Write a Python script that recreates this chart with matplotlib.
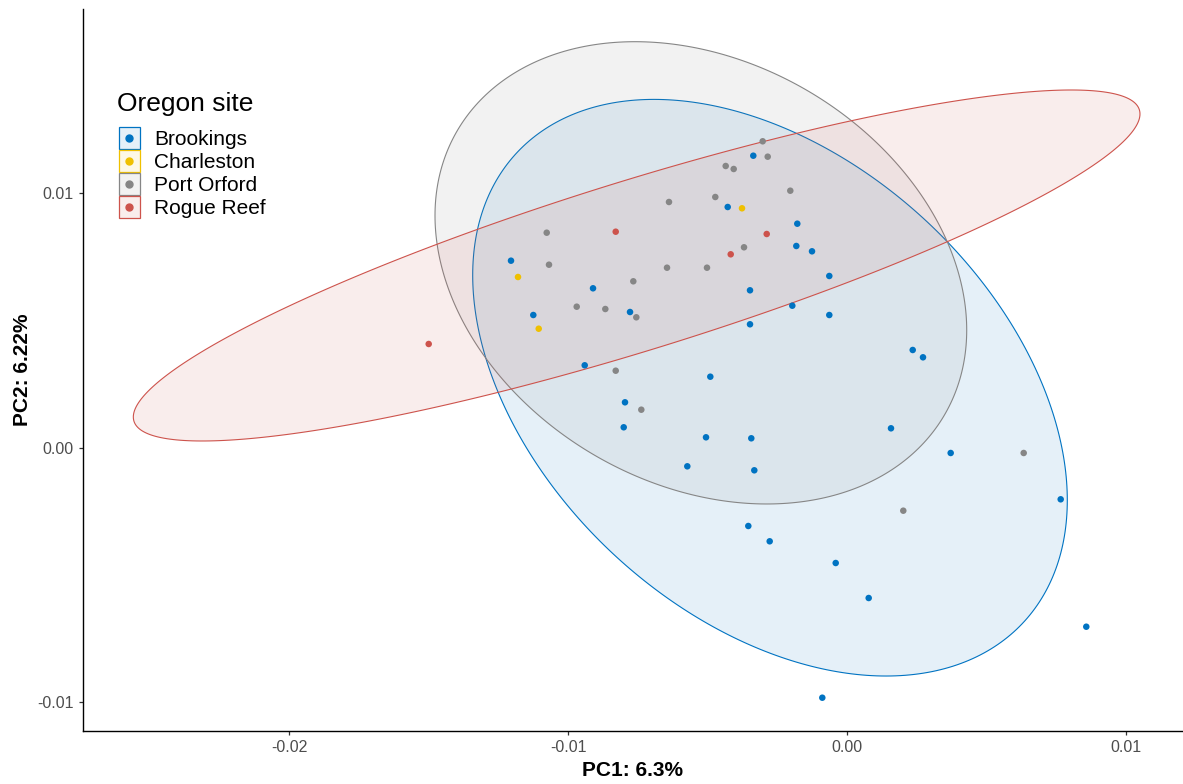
import numpy as np
import matplotlib
matplotlib.use("Agg")
import matplotlib.pyplot as plt
from matplotlib.patches import Polygon, Rectangle
from matplotlib.lines import Line2D

plt.rcParams['font.family'] = ['Liberation Sans', 'DejaVu Sans']

W, H = 1183, 784

sites = ["Brookings", "Charleston", "Port Orford", "Rogue Reef"]
site_colors = ["#0073C2", "#EFC000", "#868686", "#CD534C"]

brookings_pc1 = [-0.003361, -0.004279, -0.001783, -0.001818, -0.001255, -0.000635,
                 -0.012052, -0.009110, -0.011252, -0.007783, -0.003479, -0.001962,
                 -0.003479, -0.000635, -0.009408, -0.004903, -0.007963, -0.008009,
                 -0.005057, -0.003433, -0.005728, -0.003325, 0.002357, 0.002726,
                 0.001578, 0.003719, 0.007665, -0.003540, -0.002773, -0.000405,
                 0.000778, 0.008583, -0.000886]
brookings_pc2 = [0.011483, 0.009465, 0.008808, 0.007931, 0.007722, 0.006751,
                 0.007353, 0.006267, 0.005216, 0.005334, 0.006188, 0.005582,
                 0.004851, 0.005216, 0.003238, 0.002789, 0.001782, 0.000799,
                 0.000405, 0.000366, -0.000736, -0.000893, 0.003840, 0.003552,
                 0.000759, -0.000212, -0.002034, -0.003084, -0.003686, -0.004540,
                 -0.005917, -0.007046, -0.009839]

charleston_pc1 = [-0.003766, -0.011801, -0.011058]
charleston_pc2 = [0.009414, 0.006711, 0.004677]

portorford_pc1 = [-0.003024, -0.002844, -0.004351, -0.004064, -0.002034, -0.006385,
                  -0.004724, -0.010771, -0.010689, -0.003694, -0.006456, -0.005022,
                  -0.007665, -0.009695, -0.008669, -0.007557, -0.008296, -0.007378,
                  0.006338, 0.002019]
portorford_pc2 = [0.012050, 0.011444, 0.011078, 0.010960, 0.010106, 0.009662,
                  0.009858, 0.008454, 0.007195, 0.007880, 0.007077, 0.007077,
                  0.006542, 0.005543, 0.005452, 0.005126, 0.003025, 0.001491,
                  -0.000212, -0.002482]

roguereef_pc1 = [-0.008296, -0.002880, -0.004171, -0.015004]
roguereef_pc2 = [0.008493, 0.008403, 0.007604, 0.004076]

# 95% ellipses: centre, half-extent in x, half-extent in y,
# and x offset of the ellipse's highest point from the centre
ell_sites = ["Brookings", "Port Orford", "Rogue Reef"]
ell_cx = [-0.002762, -0.005242, -0.007545]
ell_cy = [0.002356, 0.006875, 0.007164]
ell_hw = [0.010664, 0.009536, 0.018054]
ell_hh = [0.011342, 0.009093, 0.006904]
ell_dxtop = [-0.004161, -0.002362, 0.015585]

x_ticks = [-0.02, -0.01, 0.00, 0.01]
x_ticklabels = ["-0.02", "-0.01", "0.00", "0.01"]
y_ticks = [-0.01, 0.00, 0.01]
y_ticklabels = ["-0.01", "0.00", "0.01"]

fig = plt.figure(figsize=(W / 100, H / 100), dpi=100)
ax_left, ax_right, ax_top, ax_bottom = 83, 1183, 8.9, 730.5
ax = fig.add_axes([ax_left / W, 1 - ax_bottom / H, (ax_right - ax_left) / W, (ax_bottom - ax_top) / H])

color_of = dict(zip(sites, site_colors))
t = np.linspace(0, 2 * np.pi, 361)
for s, cx, cy, hw, hh, dx in zip(ell_sites, ell_cx, ell_cy, ell_hw, ell_hh, ell_dxtop):
    S = np.array([[hw ** 2, dx * hh], [dx * hh, hh ** 2]])
    L = np.linalg.cholesky(S)
    pts = (L @ np.vstack([np.cos(t), np.sin(t)])).T + np.array([cx, cy])
    c = color_of[s]
    ax.add_patch(Polygon(pts, closed=True, facecolor=matplotlib.colors.to_rgba(c, 0.1),
                         edgecolor=c, linewidth=0.8, zorder=2))

series = [(brookings_pc1, brookings_pc2), (charleston_pc1, charleston_pc2),
          (portorford_pc1, portorford_pc2), (roguereef_pc1, roguereef_pc2)]
for (xs, ys), c in zip(series, site_colors):
    ax.scatter(xs, ys, s=22, color=c, edgecolors='none', zorder=3)

ax.set_xlim(-0.027404, 0.012052)
ax.set_ylim(-0.011129, 0.017258)
ax.set_xticks(x_ticks)
ax.set_xticklabels(x_ticklabels)
ax.set_yticks(y_ticks)
ax.set_yticklabels(y_ticklabels)
for sp in ['top', 'right']:
    ax.spines[sp].set_visible(False)
for sp in ['left', 'bottom']:
    ax.spines[sp].set_linewidth(1.0)
    ax.spines[sp].set_color('black')
ax.tick_params(axis='both', length=3, width=0.9, color='#333333', labelcolor='#4D4D4D',
               labelsize=11.5)
ax.tick_params(axis='x', pad=4)
ax.tick_params(axis='y', pad=3.5)

ax.set_xlabel("PC1: 6.3%", fontsize=15, fontweight='bold', va='center')
ax.xaxis.set_label_coords(0.5, (ax_bottom - 770) / (ax_bottom - ax_top))
ax.set_ylabel("PC2: 6.22%", fontsize=15, fontweight='bold', va='center')
ax.yaxis.set_label_coords((23 - ax_left) / (ax_right - ax_left), 0.5)

# legend
fig.text(117 / W, 1 - 110.5 / H, "Oregon site", fontsize=19, va='baseline', ha='left')
for i, (s, c) in enumerate(zip(sites, site_colors)):
    top = 127 + 23 * i
    fig.add_artist(Rectangle((118.5 / W, 1 - (top + 22) / H), 21.5 / W, 22 / H,
                             transform=fig.transFigure,
                             facecolor=matplotlib.colors.to_rgba(c, 0.1),
                             edgecolor=c, linewidth=0.9))
    fig.add_artist(Line2D([129.3 / W], [1 - (top + 11) / H], transform=fig.transFigure,
                          marker='o', markersize=5, color=c, linestyle='None'))
    fig.text(154 / W, 1 - (top + 18.4) / H, s, fontsize=15, va='baseline', ha='left')

fig.savefig("out.png", dpi=100)
